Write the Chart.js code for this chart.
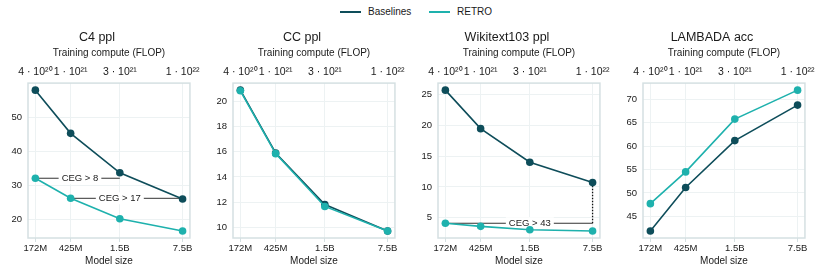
<!DOCTYPE html>
<html>
<head>
<meta charset="utf-8">
<script src="https://cdn.jsdelivr.net/npm/chart.js@4/dist/chart.umd.min.js"></script>
<style>
  html, body { margin: 0; padding: 0; background: #fff; }
  body { width: 830px; height: 277px; position: relative; overflow: hidden;
         font-family: "Liberation Sans", Arial, sans-serif; color: #1a1a1a; }
  .panel { position: absolute; top: 0; width: 205px; height: 277px; }
  .leg { position: absolute; top: 5px; height: 14px; line-height: 14px; font-size: 10px; white-space: nowrap; }
  .sw { position: absolute; top: 6px; width: 21px; height: 2px; }
</style>
</head>
<body>
<div class="sw" style="left:340px;top:11px;background:#0e4d5a"></div>
<div class="leg" style="left:368px">Baselines</div>
<div class="sw" style="left:429px;top:11px;background:#1eb1ad"></div>
<div class="leg" style="left:457px">RETRO</div>

<div class="panel" style="left:0px"><canvas id="p0"></canvas></div>
<div class="panel" style="left:205px"><canvas id="p1"></canvas></div>
<div class="panel" style="left:410px"><canvas id="p2"></canvas></div>
<div class="panel" style="left:615px"><canvas id="p3"></canvas></div>

<script>
// ---------------- data ----------------
const modelSizes = [172e6, 425e6, 1.5e9, 7.5e9];
const modelSizeLabels = ['172M', '425M', '1.5B', '7.5B'];
const computeLabels = ['4 · 10²⁰', '1 · 10²¹', '3 · 10²¹', '1 · 10²²'];

const c4Baselines = [57.9, 45.2, 33.6, 25.9];
const c4Retro = [32.0, 26.1, 20.1, 16.5];
const c4Ticks = [20, 30, 40, 50];

const ccBaselines = [20.9, 15.9, 11.8, 9.7];
const ccRetro = [20.85, 15.85, 11.65, 9.7];
const ccTicks = [10, 12, 14, 16, 18, 20];

const wikiBaselines = [25.7, 19.45, 14.0, 10.7];
const wikiRetro = [4.1, 3.6, 3.05, 2.85];
const wikiTicks = [5, 10, 15, 20, 25];

const lambadaBaselines = [41.85, 51.15, 61.2, 68.8];
const lambadaRetro = [47.7, 54.5, 65.8, 72.0];
const lambadaTicks = [45, 50, 55, 60, 65, 70];

const titles = ['C4 ppl', 'CC ppl', 'Wikitext103 ppl', 'LAMBADA acc'];

// CEG annotations: from RETRO point index -> baseline point index
const c4Notes = [
  { text: 'CEG > 8', from: 0, to: 2, at: 5.4e8 },
  { text: 'CEG > 17', from: 1, to: 3, at: 1.5e9 }
];
const wikiNotes = [
  { text: 'CEG > 43', from: 0, to: 3, at: 1.5e9, drop: true }
];

// ---------------- style ----------------
const BASE_COLOR = '#0e4d5a';
const RETRO_COLOR = '#1eb1ad';
const GRID = '#edf2f3';
const FRAME = '#d5e0e2';
const TEXT = '#1a1a1a';
const FONT = '"Liberation Sans", Arial, sans-serif';

Chart.defaults.font.family = FONT;
Chart.defaults.color = TEXT;

const frameAndNotes = {
  id: 'frameAndNotes',
  beforeDatasetsDraw(chart, args, opts) {
    const { ctx, chartArea: a, scales } = chart;
    const x = scales.x, y = scales.y;
    ctx.save();
    ctx.strokeStyle = FRAME;
    ctx.lineWidth = 1.5;
    ctx.strokeRect(a.left, a.top, a.right - a.left, a.bottom - a.top);
    const notes = opts.items || [];
    notes.forEach(n => {
      const yv = opts.retro[n.from];
      const py = y.getPixelForValue(yv);
      const x1 = x.getPixelForValue(modelSizes[n.from]);
      const x2 = x.getPixelForValue(modelSizes[n.to]);
      ctx.setLineDash([]);
      ctx.strokeStyle = '#333';
      ctx.lineWidth = 1;
      ctx.beginPath();
      ctx.moveTo(x1, py);
      ctx.lineTo(x2, py);
      ctx.stroke();
      if (n.drop) {
        const pb = y.getPixelForValue(opts.base[n.to]);
        ctx.strokeStyle = '#111';
        ctx.lineWidth = 1.3;
        ctx.setLineDash([1.5, 1.5]);
        ctx.beginPath();
        ctx.moveTo(x2, py);
        ctx.lineTo(x2, pb);
        ctx.stroke();
        ctx.setLineDash([]);
      }
      ctx.font = '9.5px ' + FONT;
      const tw = ctx.measureText(n.text).width;
      const tx = x.getPixelForValue(n.at);
      ctx.fillStyle = '#fff';
      ctx.fillRect(tx - tw / 2 - 3, py - 6, tw + 6, 12);
      ctx.fillStyle = TEXT;
      ctx.textAlign = 'center';
      ctx.textBaseline = 'middle';
      ctx.fillText(n.text, tx, py + 0.5);
    });
    ctx.restore();
  }
};

function logBounds(vals) {
  const lo = Math.log10(Math.min(...vals)), hi = Math.log10(Math.max(...vals));
  const m = (hi - lo) * 0.05;
  return [Math.pow(10, lo - m), Math.pow(10, hi + m)];
}
function linBounds(a, b) {
  const all = a.concat(b);
  const lo = Math.min(...all), hi = Math.max(...all);
  const m = (hi - lo) * 0.05;
  return [lo - m, hi + m];
}

function makePanel(canvasId, title, base, retro, yTicks, notes) {
  const [xmin, xmax] = logBounds(modelSizes);
  const [ymin, ymax] = linBounds(base, retro);
  const pts = vals => modelSizes.map((s, i) => ({ x: s, y: vals[i] }));
  new Chart(document.getElementById(canvasId), {
    type: 'line',
    data: {
      datasets: [
        { label: 'RETRO', data: pts(retro), borderColor: RETRO_COLOR, backgroundColor: RETRO_COLOR,
          borderWidth: 1.6, pointRadius: 3.8, pointHoverRadius: 3.8, pointBorderWidth: 0, order: 0 },
        { label: 'Baselines', data: pts(base), borderColor: BASE_COLOR, backgroundColor: BASE_COLOR,
          borderWidth: 1.6, pointRadius: 3.8, pointHoverRadius: 3.8, pointBorderWidth: 0, order: 1 }
      ]
    },
    options: {
      responsive: false,
      animation: false,
      devicePixelRatio: 1,
      layout: { padding: { left: 0, right: 11, top: 25, bottom: 0 } },
      plugins: {
        legend: { display: false },
        tooltip: { enabled: false },
        title: { display: true, text: title, color: TEXT,
                 font: { size: 12.5, weight: 'normal', lineHeight: 1.2 },
                 padding: { top: 5, bottom: 2.6 } },
        frameAndNotes: { items: notes, base: base, retro: retro }
      },
      scales: {
        x: {
          type: 'logarithmic', position: 'bottom', min: xmin, max: xmax,
          afterBuildTicks: ax => { ax.ticks = modelSizes.map(v => ({ value: v })); },
          afterFit: ax => { ax.height = 39; },
          ticks: { callback: (v, i) => modelSizeLabels[i], font: { size: 9.5 }, color: TEXT,
                   padding: 1, maxRotation: 0, autoSkip: false },
          grid: { color: GRID, lineWidth: 1, drawTicks: true, tickLength: 4, tickColor: FRAME },
          border: { display: false },
          title: { display: true, text: 'Model size', font: { size: 10 }, color: TEXT,
                   padding: { top: 0, bottom: 10 } }
        },
        x2: {
          type: 'logarithmic', axis: 'x', position: 'top', min: xmin, max: xmax,
          afterBuildTicks: ax => { ax.ticks = modelSizes.map(v => ({ value: v })); },
          afterFit: ax => { ax.height = 35.5; },
          ticks: { callback: (v, i) => computeLabels[i], font: { size: 10.5 }, color: TEXT,
                   padding: 5, maxRotation: 0, autoSkip: false },
          grid: { display: false, drawTicks: false },
          border: { display: false },
          title: { display: true, text: 'Training compute (FLOP)', font: { size: 10 }, color: TEXT,
                   padding: { top: 0, bottom: 0 } }
        },
        y: {
          type: 'linear', min: ymin, max: ymax,
          afterBuildTicks: ax => { ax.ticks = yTicks.map(v => ({ value: v })); },
          afterFit: ax => { ax.width = 28; },
          ticks: { font: { size: 9.5 }, color: TEXT, padding: 6 },
          grid: { color: GRID, lineWidth: 1, drawTicks: false },
          border: { display: false }
        }
      }
    },
    plugins: [frameAndNotes]
  });
}

function sizeCanvas(id) {
  const c = document.getElementById(id);
  c.width = 205; c.height = 277;
  c.style.width = '205px'; c.style.height = '277px';
}
['p0', 'p1', 'p2', 'p3'].forEach(sizeCanvas);

makePanel('p0', titles[0], c4Baselines, c4Retro, c4Ticks, c4Notes);
makePanel('p1', titles[1], ccBaselines, ccRetro, ccTicks, []);
makePanel('p2', titles[2], wikiBaselines, wikiRetro, wikiTicks, wikiNotes);
makePanel('p3', titles[3], lambadaBaselines, lambadaRetro, lambadaTicks, []);
</script>
</body>
</html>
